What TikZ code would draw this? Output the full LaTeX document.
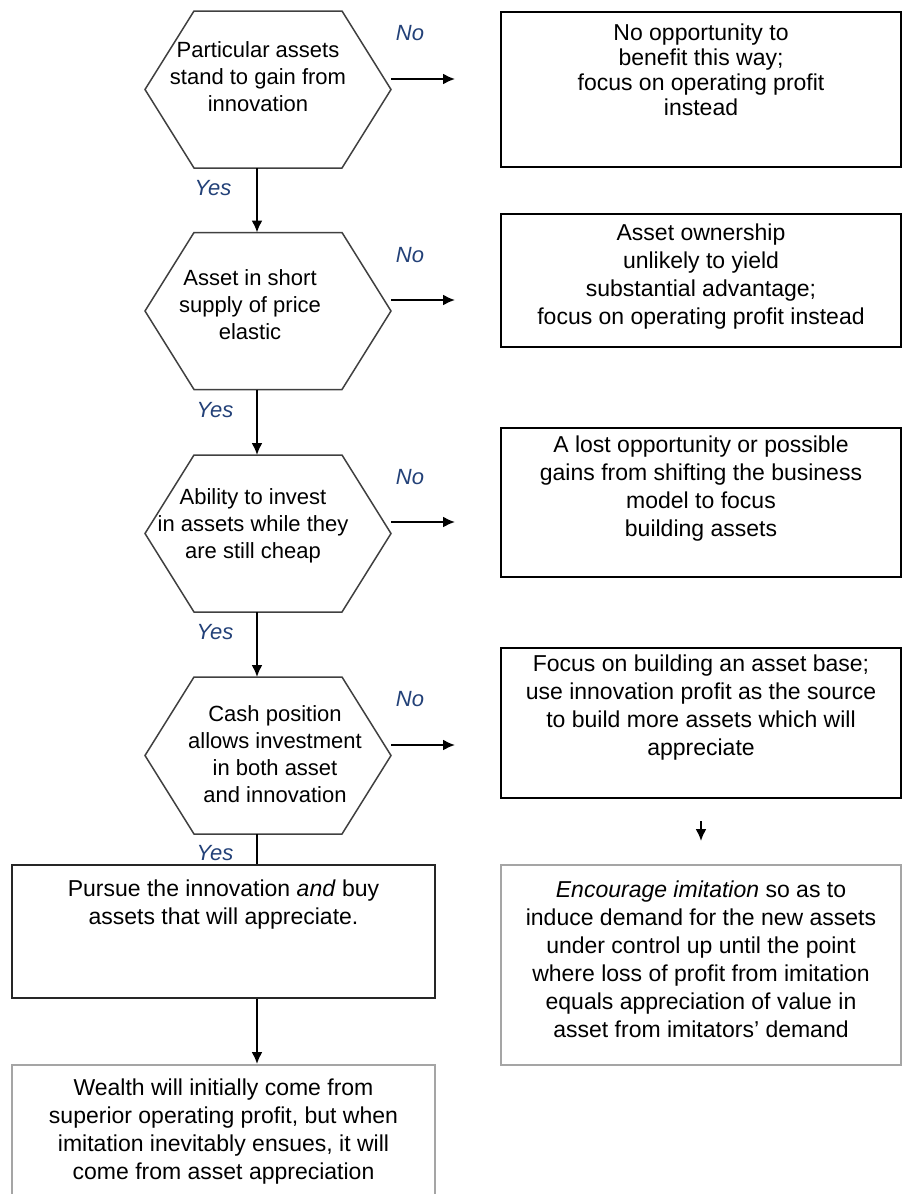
\documentclass[tikz,border=0pt]{standalone}
\usepackage{fontspec}
\setmainfont{Liberation Sans}
\usepackage{tikz}
\usetikzlibrary{positioning}
\usetikzlibrary{arrows.meta}
\definecolor{answer}{RGB}{35,65,120}
\definecolor{lightframe}{RGB}{165,165,165}
\newcommand{\hexq}[1]{%
  \draw[line width=1.5pt,black!75] (#1.west) -- ([xshift=49pt]#1.north west) -- ([xshift=-49pt]#1.north east)
    -- (#1.east) -- ([xshift=-49pt]#1.south east) -- ([xshift=49pt]#1.south west) -- cycle;}
\begin{document}
\begin{tikzpicture}[x=1pt,y=-1pt,>={Latex[length=12pt,width=11pt]},line width=2pt,
  every node/.style={font=\fontsize{22}{27}\selectfont},
  hexq/.style={minimum width=244pt,minimum height=155pt,inner sep=0pt},
  qtext/.style={align=center,inner sep=0pt},
  btext/.style={align=center,inner sep=0pt,font=\fontsize{23}{28}\selectfont},
  outbox/.style={draw,minimum width=400pt,inner sep=0pt},
  leftbox/.style={draw,minimum width=423pt,inner sep=0pt},
  reply/.style={text=answer,font=\fontsize{22}{27}\selectfont\itshape}]
  \useasboundingbox (0,0) rectangle (913,1194);
  \clip (0,0) rectangle (913,1194);
  \coordinate (spine) at (257,0);
  % decisions
  \node[hexq] (q1) at (268,89.5) {}; \hexq{q1}
  \node[qtext] (q1t) at (258,77) {Particular assets\\stand to gain from\\innovation};
  \node[hexq] (q2) at (268,311) {}; \hexq{q2}
  \node[qtext] (q2t) at (250,305) {Asset in short\\supply of price\\elastic};
  \node[hexq] (q3) at (268,533.5) {}; \hexq{q3}
  \node[qtext] (q3t) at (253,526) {Ability to invest\\in assets while they\\are still cheap};
  \node[hexq] (q4) at (268,755.5) {}; \hexq{q4}
  \node[qtext] (q4t) at (275,754) {Cash position\\allows investment\\in both asset\\and innovation};
  % outcomes on the right
  \node[outbox] (r1) at (701,89.5) [minimum height=155pt] {};
  \node[btext,font=\fontsize{23}{25}\selectfont] (r1t) at (701,70) {No opportunity to\\benefit this way;\\focus on operating profit\\instead};
  \node[outbox] (r2) at (701,280.5) [minimum height=133pt] {};
  \node[btext] (r2t) at (701,277) {Asset ownership\\unlikely to yield\\substantial advantage;\\focus on operating profit instead};
  \node[outbox] (r3) at (701,502.5) [minimum height=149pt] {};
  \node[btext] (r3t) at (701,489) {A lost opportunity or possible\\gains from shifting the business\\model to focus\\building assets};
  \node[outbox] (r4) at (701,723) [minimum height=150pt] {};
  \node[btext] (r4t) at (701,708) {Focus on building an asset base;\\use innovation profit as the source\\to build more assets which will\\appreciate};
  \node[outbox,draw=lightframe] (r5) at (701,965) [minimum height=200pt] {};
  \node[btext] (r5t) at (701,959) {\textit{Encourage imitation} so as to\\induce demand for the new assets\\under control up until the point\\where loss of profit from imitation\\equals appreciation of value in\\asset from imitators' demand};
  % outcomes on the left
  \node[leftbox,draw=black!85] (p) at (223.5,931.5) [minimum height=133pt] {};
  \node[btext] (pt) at (223.5,905) {Pursue the innovation \textit{and} buy\\assets that will appreciate.};
  \node[leftbox,draw=lightframe] (w) at (223.5,1137.5) [minimum height=145pt] {};
  \node[btext] (wt) at (223.5,1132) {Wealth will initially come from\\superior operating profit, but when\\imitation inevitably ensues, it will\\come from asset appreciation};
  % yes branch
  \draw[->] (q1.south -| spine) -- (q2.north -| spine);
  \draw[->] (q2.south -| spine) -- (q3.north -| spine);
  \draw[->] (q3.south -| spine) -- (q4.north -| spine);
  \draw (q4.south -| spine) -- (p.north -| spine);
  \draw[->] (p.south -| spine) -- (w.north -| spine);
  \draw[->,shorten <=22pt,shorten >=23pt] (r4) -- (r5);
  \node[reply] (y1) at (213,188) {Yes};
  \node[reply] (y2) at (215,410) {Yes};
  \node[reply] (y3) at (215,632) {Yes};
  \node[reply] (y4) at (215,853) {Yes};
  % no branch
  \foreach \q/\h in {1/79,2/300,3/522,4/745}{
    \coordinate (n\q) at (455,\h);
    \draw[->] (q\q.east |- n\q) -- (n\q);
  }
  \node[reply] (x1) at (410,33) {No};
  \node[reply] (x2) at (410,255) {No};
  \node[reply] (x3) at (410,477) {No};
  \node[reply] (x4) at (410,699) {No};
\end{tikzpicture}
\end{document}
